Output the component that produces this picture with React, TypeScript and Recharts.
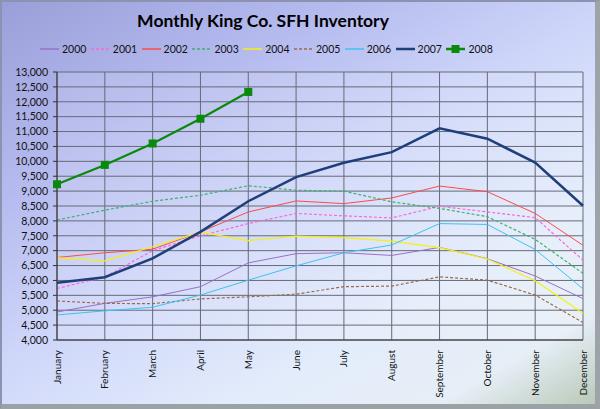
import React from "react";
import { CartesianGrid, Line, LineChart, XAxis, YAxis } from "recharts";

const months = [
  "January", "February", "March", "April", "May", "June",
  "July", "August", "September", "October", "November", "December",
];

const y2000 = [4940, 5230, 5450, 5790, 6590, 6900, 6930, 6840, 7110, 6730, 6150, 5390];
const y2001 = [5730, 6120, 7000, 7500, 7910, 8250, 8170, 8100, 8490, 8300, 8110, 6680];
const y2002 = [6770, 6930, 7050, 7630, 8300, 8670, 8580, 8770, 9170, 8980, 8250, 7180];
const y2003 = [8030, 8360, 8660, 8860, 9180, 9030, 9000, 8640, 8420, 8140, 7380, 6240];
const y2004 = [6760, 6660, 7130, 7620, 7340, 7490, 7440, 7320, 7100, 6720, 5990, 4900];
const y2005 = [5310, 5230, 5220, 5380, 5450, 5540, 5790, 5810, 6120, 6010, 5510, 4590];
const y2006 = [4840, 4980, 5100, 5510, 6010, 6490, 6930, 7190, 7910, 7880, 7040, 5720];
const y2007 = [5920, 6110, 6740, 7630, 8660, 9470, 9950, 10310, 11110, 10760, 9960, 8510];
const y2008 = [9230, 9880, 10600, 11430, 12330];

const yTicks = [
  4000, 4500, 5000, 5500, 6000, 6500, 7000, 7500, 8000, 8500,
  9000, 9500, 10000, 10500, 11000, 11500, 12000, 12500, 13000,
];

const series = [
  { key: "2000", values: y2000, color: "#9b6fc9", width: 1, dash: undefined },
  { key: "2001", values: y2001, color: "#ff66dd", width: 1.2, dash: "3 2" },
  { key: "2002", values: y2002, color: "#ff4a4a", width: 1, dash: undefined },
  { key: "2003", values: y2003, color: "#3cb371", width: 1.2, dash: "3 2" },
  { key: "2004", values: y2004, color: "#f5f010", width: 1.2, dash: undefined },
  { key: "2005", values: y2005, color: "#9a6a4a", width: 1.2, dash: "3 2" },
  { key: "2006", values: y2006, color: "#3cc3f0", width: 1, dash: undefined },
  { key: "2007", values: y2007, color: "#1f3f7a", width: 2.5, dash: undefined },
  { key: "2008", values: y2008, color: "#0a8a0a", width: 2.2, dash: undefined, marker: true },
];

const data = months.map((m, i) => {
  const row: Record<string, string | number | undefined> = { month: m };
  series.forEach((s) => {
    row[s.key] = s.values[i];
  });
  return row;
});

const FONT = "Lato, 'Noto Sans', sans-serif";

// rotated month labels, reading bottom-to-top, top end just below the axis
const MonthTick = ({ x, payload }: { x?: number; y?: number; payload?: { value: string } }) => {
  const ty = 350;
  return (
    <text
      x={x}
      y={ty}
      dy="0.35em"
      transform={`rotate(-90, ${x}, ${ty})`}
      textAnchor="end"
      fill="#111"
      fontSize={10}
      fontFamily={FONT}
    >
      {payload?.value}
    </text>
  );
};

const Square = ({ cx, cy, stroke }: { cx?: number; cy?: number; stroke?: string }) =>
  cx == null || cy == null ? null : (
    <rect x={cx - 4} y={cy - 4} width={8} height={8} fill={stroke} stroke="none" />
  );

function LegendRow() {
  return (
    <div
      style={{
        position: "absolute",
        top: 40,
        left: 38,
        display: "flex",
        fontFamily: FONT,
        fontSize: 10.5,
        color: "#111",
      }}
    >
      {series.map((s) => (
        <div key={s.key} style={{ display: "flex", alignItems: "center", width: 50.8, height: 14 }}>
          <svg width={22} height={14}>
            <line
              x1={0}
              x2={19}
              y1={7}
              y2={7}
              stroke={s.color}
              strokeWidth={s.width > 2 ? 2.5 : 1.5}
              strokeDasharray={s.dash}
            />
            {s.marker && <rect x={5.5} y={3} width={8} height={8} fill={s.color} />}
          </svg>
          <span>{s.key}</span>
        </div>
      ))}
    </div>
  );
}

export default function App() {
  return (
    <div
      style={{
        position: "absolute",
        top: 0,
        left: 0,
        width: 600,
        height: 409,
        boxSizing: "border-box",
        borderTop: "2px solid #8e92b0",
        borderLeft: "2px solid #8e92b0",
        borderRight: "5px solid #9da3a8",
        borderBottom: "5px solid #9aa2a6",
        background:
          "linear-gradient(150deg, #9a9fd9 0%, #b4b9ee 25%, #d0d8fa 50%, #e3ecfb 72%, #e6eef6 88%, #b9c9b8 100%)",
        overflow: "hidden",
      }}
    >
      <div
        style={{
          position: "absolute",
          top: 8,
          left: 0,
          width: 522,
          textAlign: "center",
          fontFamily: FONT,
          fontWeight: 700,
          fontSize: 17.5,
          color: "#000",
        }}
      >
        Monthly King Co. SFH Inventory
      </div>
      <LegendRow />
      <div style={{ position: "absolute", top: -2, left: -2 }}>
        <LineChart
          width={600}
          height={409}
          data={data}
          margin={{ top: 72, right: 17, bottom: 9, left: 0 }}
        >
          <CartesianGrid stroke="#666a78" fill="rgba(255,255,255,0.12)" />
          <XAxis
            dataKey="month"
            scale="point"
            interval={0}
            height={60}
            tick={<MonthTick />}
            tickLine={false}
            axisLine={{ stroke: "#333" }}
          />
          <YAxis
            type="number"
            domain={[4000, 13000]}
            ticks={yTicks}
            interval={0}
            width={57}
            tickSize={4}
            tickMargin={5}
            tickFormatter={(v: number) => v.toLocaleString("en-US")}
            tick={{ fill: "#111", fontSize: 10.5, fontFamily: FONT }}
            tickLine={{ stroke: "#333" }}
            axisLine={{ stroke: "#333" }}
          />
          {series.map((s) => (
            <Line
              key={s.key}
              dataKey={s.key}
              type="linear"
              stroke={s.color}
              strokeWidth={s.width}
              strokeDasharray={s.dash}
              dot={s.marker ? <Square /> : false}
              activeDot={false}
              isAnimationActive={false}
              connectNulls={false}
            />
          ))}
        </LineChart>
      </div>
    </div>
  );
}
